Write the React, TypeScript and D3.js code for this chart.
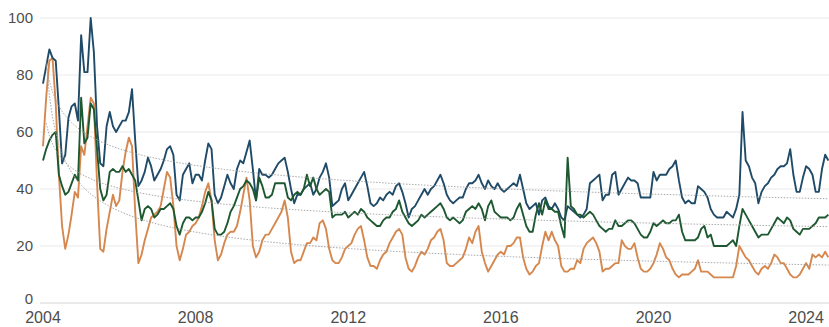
import React, { useEffect, useRef } from "react";
import { select, scaleLinear, line, curveLinear } from "d3";

// monthly index values, Jan 2004 .. Aug 2024
const navySeries = [
  77, 83, 89, 86, 85, 68, 49, 52, 65, 69, 70, 64,
  94, 81, 81, 100, 88, 62, 49, 48, 62, 67, 62, 60,
  62, 64, 64, 67, 75, 57, 41, 43, 46, 51, 48, 43,
  45, 47, 50, 54, 55, 52, 38, 36, 45, 47, 49, 42,
  45, 45, 43, 50, 56, 54, 38, 35, 37, 41, 45, 42,
  40, 47, 50, 49, 53, 57, 47, 36, 47, 45, 45, 44,
  45, 47, 49, 50, 51, 46, 40, 35, 38, 38, 40, 41,
  42, 38, 40, 44, 46, 49, 44, 34, 35, 36, 40, 42,
  36, 38, 40, 42, 44, 46, 41, 35, 34, 35, 37, 36,
  38, 39, 38, 41, 42, 39, 35, 30, 33, 34, 36, 38,
  40, 38, 40, 41, 43, 45, 42, 38, 36, 35, 36, 37,
  37, 40, 42, 42, 43, 45, 42, 40, 43, 41, 40, 42,
  40, 39, 40, 41, 42, 41, 45, 40, 35, 33, 34, 35,
  31, 36, 37, 34, 33, 35, 33, 30, 29, 34, 33, 32,
  31, 30, 31, 33, 42, 43, 44, 45, 36, 38, 38, 45,
  46, 38, 40, 42, 44, 43, 43, 42, 37, 37, 37, 37,
  46, 43, 45, 45, 45, 47, 48, 50, 43, 37, 35, 36,
  35, 35, 41, 40, 39, 37, 33, 31, 30, 30, 30, 32,
  31, 30, 33, 38, 67, 50, 48, 44, 42, 35, 39, 41,
  42, 44, 45, 47, 48, 48, 49, 54, 45, 39, 39, 44,
  48, 47, 45, 39, 39, 47, 52, 50,
];

const greenSeries = [
  50, 54, 57, 59, 60, 45, 41, 38, 39, 42, 45, 43,
  72, 56, 58, 70, 68, 54, 40, 36, 38, 46, 47, 46,
  46, 48, 46, 47, 45, 43, 36, 29, 33, 34, 33, 30,
  31, 33, 33, 34, 35, 33, 27, 24, 28, 30, 30, 29,
  30, 30, 32, 35, 39, 36, 26, 24, 24, 25, 28, 32,
  34, 37, 40, 41, 43, 42, 40, 36, 44, 41, 37, 37,
  38, 42, 42, 42, 42, 37, 36, 38, 39, 38, 40, 45,
  41, 44, 40, 38, 39, 40, 39, 30, 31, 31, 31, 32,
  30, 31, 32, 31, 33, 32, 30, 29, 28, 27, 27, 29,
  30, 30, 32, 33, 36, 32, 30, 28, 27, 28, 29, 31,
  30, 31, 32, 33, 34, 35, 33, 30, 29, 30, 29, 28,
  29, 32, 33, 34, 33, 35, 33, 29, 34, 36, 32, 31,
  30, 30, 30, 29, 30, 33, 35, 31, 27, 25, 25, 31,
  35, 31, 36, 33, 33, 32, 32, 27, 23, 51, 34, 33,
  31, 31, 30, 31, 32, 31, 29, 27, 26, 25, 26, 26,
  29, 27, 27, 28, 29, 29, 28, 26, 24, 23, 23, 25,
  28, 27, 28, 29, 28, 28, 29, 29, 31, 25, 22, 22,
  22, 22, 23, 26, 27, 23, 24, 20, 20, 20, 20, 20,
  21, 22, 20, 27, 33, 31, 29, 27, 25, 23, 24, 24,
  24, 26, 28, 30, 29, 28, 30, 29, 26, 25, 24, 26,
  26, 26, 27, 28, 30, 30, 30, 31,
];

const orangeSeries = [
  55, 72, 85, 86, 70, 45, 27, 19, 24, 31, 39, 37,
  55, 52, 62, 72, 70, 42, 19, 18, 26, 32, 38, 34,
  36, 46, 53, 58, 55, 32, 14, 17, 22, 26, 30, 31,
  32, 34, 40, 46, 44, 34, 20, 15, 19, 24, 25, 27,
  28, 30, 34, 39, 42, 36, 22, 15, 17, 21, 24, 25,
  25, 27, 32, 38, 44, 36, 20, 16, 18, 22, 24, 24,
  26, 28, 30, 32, 36, 30, 18, 14, 15, 15, 18, 21,
  21, 23, 22, 28, 29, 26, 19, 15, 14, 14, 16, 19,
  20, 21, 24, 26, 27, 22, 16, 13, 13, 12, 15, 17,
  18, 21, 23, 25, 26, 24, 16, 12, 11, 13, 16, 18,
  17, 19, 22, 23, 25, 26, 22, 14, 13, 13, 14, 15,
  16, 19, 23, 21, 25, 27, 18, 14, 11, 13, 15, 17,
  18, 17, 20, 20, 21, 23, 23, 16, 12, 10, 11, 13,
  14, 20, 25, 22, 25, 22, 20, 13, 11, 11, 12, 12,
  15, 14, 19, 21, 22, 23, 21, 18, 11, 12, 12, 13,
  14, 14, 22, 20, 19, 19, 21, 16, 12, 11, 11, 12,
  14, 17, 21, 19, 16, 15, 12, 10, 9, 10, 10, 10,
  11, 12, 15, 11, 11, 11, 10, 9, 9, 9, 9, 9,
  9, 9, 13, 20, 18, 16, 15, 13, 11, 10, 12, 13,
  12, 14, 17, 16, 14, 14, 12, 10, 9, 9, 10, 12,
  14, 12, 17, 16, 17, 16, 18, 16,
];

const yTicks = [0, 20, 40, 60, 80, 100];
const xTicks = [2004, 2008, 2012, 2016, 2020, 2024];

const seriesList = [
  { name: "orange", values: orangeSeries, color: "#d6874e" },
  { name: "navy", values: navySeries, color: "#1f4b68" },
  { name: "green", values: greenSeries, color: "#1d5830" },
];

// power trendline, fitted on log(value) vs log(month number)
const powerTrend = (values: number[]) => {
  const n = values.length;
  let sx = 0, sy = 0, sxx = 0, sxy = 0;
  values.forEach((v, i) => {
    const lx = Math.log(i + 1);
    const ly = Math.log(v);
    sx += lx; sy += ly; sxx += lx * lx; sxy += lx * ly;
  });
  const b = (n * sxy - sx * sy) / (n * sxx - sx * sx);
  const a = Math.exp((sy - b * sx) / n);
  return values.map((_, i) => a * Math.pow(i + 1, b));
};

const App = () => {
  const ref = useRef<SVGSVGElement>(null);
  const width = 829;
  const height = 327;

  useEffect(() => {
    const svg = select(ref.current);
    svg.selectAll("*").remove();

    const xScale = scaleLinear().domain([2004, 2024.6]).range([43, 829]);
    const yScale = scaleLinear().domain([0, 100]).range([303, 18]);
    const t = (i: number) => 2004 + i / 12;
    const font = "'Liberation Sans', Arial, sans-serif";

    svg.append("clipPath")
      .attr("id", "plot-clip")
      .append("rect")
      .attr("x", 40)
      .attr("y", yScale(100))
      .attr("width", width - 40)
      .attr("height", yScale(0) - yScale(100));

    const grid = svg.append("g");
    grid.selectAll("line")
      .data(yTicks)
      .enter()
      .append("line")
      .attr("x1", 40)
      .attr("x2", width)
      .attr("y1", d => yScale(d))
      .attr("y2", d => yScale(d))
      .attr("stroke", d => (d === 0 ? "#d6d6d6" : "#e9e9e9"))
      .attr("stroke-width", 1.2);

    grid.selectAll("text")
      .data(yTicks)
      .enter()
      .append("text")
      .attr("x", 33)
      .attr("y", d => yScale(d) - (d === 0 ? 4 : 0))
      .attr("dy", "0.35em")
      .attr("text-anchor", "end")
      .attr("font-family", font)
      .attr("font-size", 15)
      .attr("fill", "#4d4d4d")
      .text(d => d);

    svg.append("g")
      .selectAll("text")
      .data(xTicks)
      .enter()
      .append("text")
      .attr("x", d => xScale(d))
      .attr("y", 323)
      .attr("text-anchor", "middle")
      .attr("font-family", font)
      .attr("font-size", 16)
      .attr("fill", "#4d4d4d")
      .text(d => d);

    const path = line<number>()
      .x((_, i) => xScale(t(i)))
      .y(d => yScale(d))
      .curve(curveLinear);

    const lines = svg.append("g").attr("fill", "none");
    seriesList.forEach(s => {
      lines.append("path")
        .attr("d", path(s.values))
        .attr("stroke", s.color)
        .attr("stroke-width", 1.9)
        .attr("stroke-linejoin", "round");
    });

    // trend drawn from the second month on, kept inside the plot
    const trendPath = line<number>()
      .defined((_, i) => i > 0)
      .x((_, i) => xScale(t(i)))
      .y(d => yScale(d));

    const trends = svg.append("g")
      .attr("fill", "none")
      .attr("clip-path", "url(#plot-clip)");
    seriesList.forEach(s => {
      trends.append("path")
        .attr("d", trendPath(powerTrend(s.values)))
        .attr("stroke", "#999")
        .attr("stroke-width", 1)
        .attr("stroke-dasharray", "1.5 1.5")
        .attr("opacity", 0.85);
    });
  }, []);

  return (
    <svg
      ref={ref}
      width={width}
      height={height}
      style={{ position: "absolute", left: 0, top: 0, background: "#fff" }}
    />
  );
};

export default App;
